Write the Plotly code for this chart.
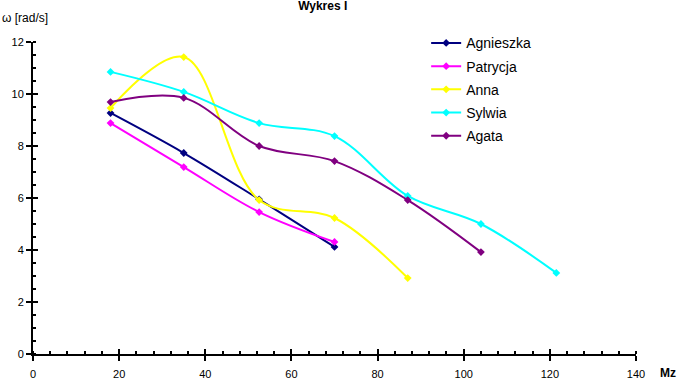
import plotly.graph_objects as go

names = ["Agnieszka", "Patrycja", "Anna", "Sylwia", "Agata"]
colors = ["#000080", "#FF00FF", "#FFFF00", "#00FFFF", "#800080"]

x_agnieszka = [18, 35, 52.5, 70]
y_agnieszka = [9.27, 7.73, 5.95, 4.12]
x_patrycja = [18, 35, 52.5, 70]
y_patrycja = [8.88, 7.19, 5.46, 4.31]
x_anna = [18, 35, 52.5, 70, 87]
y_anna = [9.46, 11.42, 5.92, 5.23, 2.92]
x_sylwia = [18, 35, 52.5, 70, 87, 104, 121.5]
y_sylwia = [10.85, 10.08, 8.88, 8.38, 6.08, 5.0, 3.12]
x_agata = [18, 35, 52.5, 70, 87, 104]
y_agata = [9.69, 9.85, 8.0, 7.42, 5.92, 3.92]

xs = [x_agnieszka, x_patrycja, x_anna, x_sylwia, x_agata]
ys = [y_agnieszka, y_patrycja, y_anna, y_sylwia, y_agata]

x_ticks = [0, 20, 40, 60, 80, 100, 120, 140]
y_ticks = [0, 2, 4, 6, 8, 10, 12]

FONT = "Liberation Sans, Arial, sans-serif"

fig = go.Figure()
for n, c, x, y in zip(names, colors, xs, ys):
    fig.add_trace(go.Scatter(
        x=x, y=y, name=n, mode="lines+markers", legendgroup=n,
        line=dict(color=c, width=2, shape="spline", smoothing=1),
        marker=dict(symbol="diamond", size=6, color=c),
    ))

# invisible trace to activate overlay axes for inside major ticks
fig.add_trace(go.Scatter(x=[0], y=[0], xaxis="x2", yaxis="y2", mode="markers",
                         marker=dict(opacity=0), showlegend=False, hoverinfo="skip"))

fig.update_layout(
    width=678, height=383,
    margin=dict(l=33, r=42, t=42, b=29, autoexpand=False),
    paper_bgcolor="white", plot_bgcolor="white",
    font=dict(family=FONT, size=11, color="black"),
    title=dict(text="<b>Wykres I</b>", x=0.476, xanchor="center", y=0.984, yanchor="middle",
               font=dict(family=FONT, size=12, color="black")),
    xaxis=dict(range=[0, 140], tickvals=x_ticks, ticktext=[str(v) for v in x_ticks],
               showgrid=False, zeroline=False, showline=True, linecolor="black", linewidth=2,
               ticks="outside", ticklen=5, tickwidth=2, tickcolor="black", automargin=False,
               minor=dict(dtick=4, ticks="inside", ticklen=3, tickwidth=2, tickcolor="black"),
               tickfont=dict(size=11), ticklabelstandoff=4),
    yaxis=dict(range=[0, 12], tickvals=y_ticks, ticktext=[str(v) for v in y_ticks],
               showgrid=False, zeroline=False, showline=True, linecolor="black", linewidth=2,
               ticks="outside", ticklen=5, tickwidth=2, tickcolor="black", automargin=False,
               minor=dict(dtick=0.5, ticks="inside", ticklen=3, tickwidth=2, tickcolor="black"),
               tickfont=dict(size=11)),
    xaxis2=dict(overlaying="x", matches="x", showticklabels=False, showgrid=False,
                zeroline=False, tickvals=x_ticks, ticks="inside", ticklen=5, tickwidth=2,
                tickcolor="black", anchor="y2", side="bottom", automargin=False),
    yaxis2=dict(overlaying="y", matches="y", showticklabels=False, showgrid=False,
                zeroline=False, tickvals=y_ticks, ticks="inside", ticklen=5, tickwidth=2,
                tickcolor="black", anchor="x2", side="left", automargin=False),
    legend=dict(x=0.652, y=1.047, xanchor="left", yanchor="top", bgcolor="rgba(0,0,0,0)",
                font=dict(family=FONT, size=14), itemwidth=30, tracegroupgap=2,
                traceorder="grouped"),
    showlegend=True,
)

fig.add_annotation(text="\u03c9 [rad/s]", xref="paper", yref="paper", x=-0.0547, y=1.077,
                   xanchor="left", yanchor="middle", showarrow=False,
                   font=dict(family=FONT, size=12))
fig.add_annotation(text="<b>Mz</b>", xref="paper", yref="paper", x=1.069, y=-0.061,
                   xanchor="right", yanchor="middle", showarrow=False,
                   font=dict(family=FONT, size=12))

fig.write_html("out.html", config={"displayModeBar": False},
               post_script="document.body.style.margin='0';document.body.style.overflow='hidden';")
